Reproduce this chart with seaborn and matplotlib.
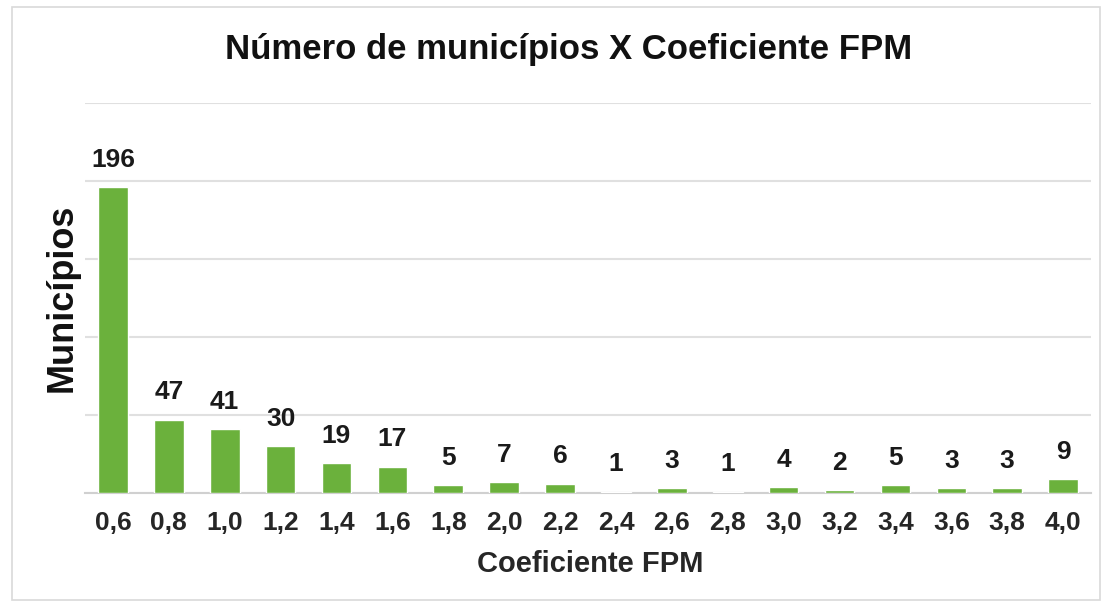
import matplotlib
matplotlib.use("Agg")
import matplotlib.pyplot as plt
import seaborn as sns
import pandas as pd
from matplotlib.patches import Rectangle

# Dados
coeficientes = ["0,6", "0,8", "1,0", "1,2", "1,4", "1,6", "1,8", "2,0", "2,2",
                "2,4", "2,6", "2,8", "3,0", "3,2", "3,4", "3,6", "3,8", "4,0"]
municipios = [196, 47, 41, 30, 19, 17, 5, 7, 6, 1, 3, 1, 4, 2, 5, 3, 3, 9]

df = pd.DataFrame({"Coeficiente FPM": coeficientes, "Municípios": municipios})

sns.set_style("white")
plt.rcParams['font.family'] = ['Liberation Sans', 'DejaVu Sans']

fig = plt.figure(figsize=(11.08, 6.05), dpi=100)
ax = fig.add_axes([0.0767, 0.185, 0.908, 0.645])

sns.barplot(data=df, x="Coeficiente FPM", y="Municípios", color="#6bb13c",
            width=0.53, saturation=1, ax=ax, zorder=3)

ax.set_ylim(0, 250)
ax.set_xlim(-0.5, len(coeficientes) - 0.5)
ax.set_yticks([0, 50, 100, 150, 200, 250])
ax.set_yticklabels([])
ax.yaxis.grid(True, color="#e0e0e0", linewidth=1.5, zorder=0)
ax.tick_params(axis="both", length=0)
ax.tick_params(axis="x", pad=13, labelsize=19)
for lbl in ax.get_xticklabels():
    lbl.set_fontweight("bold")
    lbl.set_color("#262626")
ax.set_xlabel("")
ax.set_ylabel("")
for s in ["top", "right", "left"]:
    ax.spines[s].set_visible(False)
ax.spines["bottom"].set_color("#d0d0d0")
ax.spines["bottom"].set_linewidth(1.5)

# Rótulos de dados
for i, v in enumerate(municipios):
    ax.annotate(str(v), (i, v), xytext=(0, 11), textcoords="offset points",
                ha="center", va="bottom", fontsize=19, fontweight="bold",
                color="#1a1a1a")

fig.text(0.513, 1 - 50 / 605, "Número de municípios X Coeficiente FPM",
         ha="center", va="center", fontsize=25, fontweight="bold", color="#111111")
fig.text(0.533, 1 - 564 / 605, "Coeficiente FPM", ha="center", va="center",
         fontsize=21, fontweight="bold", color="#262626")
fig.text(0.056, 1 - 298 / 605, "Municípios", ha="center", va="center",
         rotation=90, fontsize=26, fontweight="bold", color="#111111")

# Borda da área do gráfico
fig.patches.append(Rectangle((12 / 1108, 5 / 605), 1088 / 1108, 593 / 605,
                             transform=fig.transFigure, fill=False,
                             edgecolor="#d9d9d9", linewidth=1.2))

fig.savefig("out.png", dpi=100, facecolor="white")
